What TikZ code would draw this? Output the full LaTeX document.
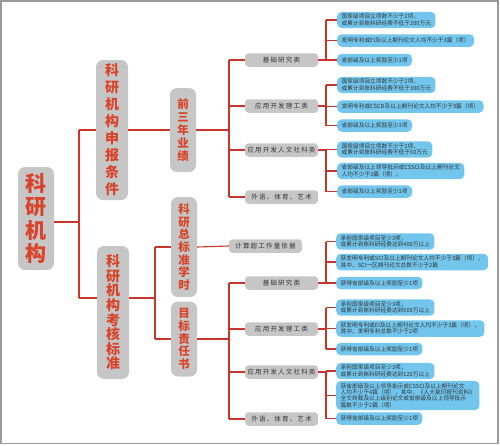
\documentclass[tikz,border=0pt]{standalone}
\usepackage{fontspec}
\setmainfont{Noto Sans CJK SC}
\newfontfamily\cjk{Noto Sans CJK SC}
\newfontfamily\catfont{Noto Sans CJK SC}[LetterSpace=18]
\definecolor{boxgray}{HTML}{C6C6C6}
\definecolor{leafblue}{HTML}{72C6EE}
\definecolor{linered}{HTML}{C8352B}
\definecolor{titlered}{HTML}{D8432A}
\definecolor{textdark}{HTML}{333333}
\definecolor{framegray}{HTML}{9A9A9A}
\tikzset{
  titlebox/.style={fill=boxgray, rounded corners=7pt, inner sep=0pt, align=center, text=titlered},
  rootfont/.style={font=\cjk\bfseries\fontsize{21}{23.5}\selectfont},
  secfont/.style={font=\cjk\bfseries\fontsize{14}{17}\selectfont},
  thirdfont/.style={font=\cjk\bfseries\fontsize{11.5}{13}\selectfont},
  catbox/.style={fill=boxgray, rounded corners=3.5pt, minimum width=73pt, minimum height=13.5pt,
    inner sep=0pt, font=\catfont\fontsize{6.5}{7}\selectfont, text=textdark},
  leaf/.style={fill=leafblue, rounded corners=4.5pt, anchor=west, inner xsep=4.5pt, inner ysep=2.3pt,
    minimum height=12.5pt, align=left, font=\cjk\fontsize{5.7}{6.4}\selectfont, text=textdark},
  link/.style={draw=linered, line width=1.1pt}
}
\begin{document}
\begin{tikzpicture}[x=1pt,y=-1pt]
\useasboundingbox (0,0) rectangle (500,445);
\draw[framegray, line width=1.2pt] (1,1) rectangle (498,443.8);

% title nodes
\node[titlebox, rootfont, minimum width=36pt, minimum height=103pt] (root) at (36,218.5) {科\\研\\机\\构};
\node[titlebox, secfont, minimum width=32pt, minimum height=140pt] (sa) at (112,130) {科\\研\\机\\构\\申\\报\\条\\件};
\node[titlebox, font=\cjk\bfseries\fontsize{14}{14.6}\selectfont, minimum width=32pt, minimum height=133pt] (sb) at (113,312.5) {科\\研\\机\\构\\考\\核\\标\\准};
\node[titlebox, thirdfont, minimum width=26pt, minimum height=84pt] (ta) at (183,130) {前\\三\\年\\业\\绩};
\node[titlebox, font=\cjk\bfseries\fontsize{11.5}{12.6}\selectfont, minimum width=26pt, minimum height=100pt] (tb) at (184,247) {科\\研\\总\\标\\准\\学\\时};
\node[titlebox, font=\cjk\bfseries\fontsize{11.5}{12.6}\selectfont, minimum width=26pt, minimum height=75pt] (tc) at (184,339) {目\\标\\责\\任\\书};

% categories
\node[catbox] (c1) at (281.5,60) {基础研究类};
\node[catbox] (c2) at (281.5,106) {应用开发理工类};
\node[catbox] (c3) at (281.5,150) {应用开发人文社科类};
\node[catbox] (c4) at (281.5,197) {外语、体育、艺术};
\node[catbox] (cx) at (265.5,246) {计算超工作量依据};
\node[catbox] (c5) at (281.5,283) {基础研究类};
\node[catbox] (c6) at (281.5,329) {应用开发理工类};
\node[catbox] (c7) at (281.5,372) {应用开发人文社科类};
\node[catbox] (c8) at (281.5,419) {外语、体育、艺术};

% leaves
\node[leaf] (l11) at (337,20) {国家级项目立项数不少于2项，\\或累计到账科研经费不低于200万元};
\node[leaf] (l12) at (337,40.5) {发明专利或EI及以上期刊论文人均不少于3篇（项）};
\node[leaf] (l13) at (337,60) {省部级及以上奖励至少1项};
\node[leaf] (l21) at (337,85) {国家级项目立项数不少于2项，\\或累计到账科研经费不低于300万元};
\node[leaf] (l22) at (337,106.5) {发明专利或CSCD及以上期刊论文人均不少于3篇（项）};
\node[leaf] (l23) at (337,125.5) {省部级及以上奖励至少1项};
\node[leaf] (l31) at (337,149.5) {国家级项目立项数不少于2项，\\或累计到账科研经费不低于60万元};
\node[leaf] (l32) at (337,171) {省部级及以上领导批示或CSSCI及以上期刊论文\\人均不少于3篇（项）。};
\node[leaf] (l33) at (337,191.5) {省部级及以上奖励至少1项};
\node[leaf] (l51) at (336,241.5) {承担国家级项目至少3项，\\或累计到账科研经费达到400万以上};
\node[leaf] (l52) at (336,262) {获发明专利或SCI及以上期刊论文人均不少于3篇（项），\\其中，SCI一区期刊论文总数不少于2篇};
\node[leaf] (l53) at (336,283) {获得省部级及以上奖励至少1项};
\node[leaf] (l61) at (336,307.5) {承担国家级项目至少3项，\\或累计到账科研经费达到600万以上};
\node[leaf] (l62) at (336,328.5) {获发明专利或EI及以上期刊论文人均不少于3篇（项），\\其中，发明专利总数不少于2项};
\node[leaf] (l63) at (336,349) {获得省部级及以上奖励至少1项};
\node[leaf] (l71) at (336,371) {承担国家级项目至少3项，\\或累计到账科研经费达到120万以上};
\node[leaf] (l72) at (336,395.5) {获省部级及以上领导批示或CSSCI及以上期刊论文\\人均不少于4篇（项），其中，《人大复印报刊资料》\\全文转载及以上级别论文或省部级及以上领导批示\\篇数不少于2篇（项）};
\node[leaf] (l73) at (336,418.5) {获得省部级及以上奖励至少1项};

% junction coordinates
\coordinate (j0) at (79,222);
\coordinate (j2) at (155,298);
\coordinate (va) at (229,0);
\coordinate (vl) at (326,0);

% root level
\draw[link] (root.east |- j0) -- (j0);
\draw[link] (j0 |- sa) -- (j0 |- j2);
\draw[link] (j0 |- sa) -- (sa.west);
\draw[link] (j0 |- j2) -- (sb.west |- j2);

% second level
\draw[link] (sa.east) -- (ta.west);
\draw[link] (sb.east |- j2) -- (j2);
\draw[link] (j2 |- tb) -- (j2 |- tc);
\draw[link] (j2 |- tb) -- (tb.west);
\draw[link] (j2 |- tc) -- (tc.west);

% third level
\draw[link] (ta.east) -- (va |- ta);
\draw[link] (va |- c1) -- (va |- c4);
\foreach \c in {c1,c2,c3,c4} \draw[link] (va |- \c) -- (\c.west);
\draw[link] (tb.east) -- (cx.west);
\draw[link] (tc.east) -- (va |- tc);
\draw[link] (va |- c5) -- (va |- c8);
\foreach \c in {c5,c6,c7,c8} \draw[link] (va |- \c) -- (\c.west);

% leaf level
\foreach \c/\a/\b/\m in {c1/l11/l13/l12, c2/l21/l23/l22, c3/l31/l33/l32, c5/l51/l53/l52, c6/l61/l63/l62, c7/l71/l73/l72} {
  \draw[link] (\c.east) -- (vl |- \c);
  \draw[link] (vl |- \a) -- (vl |- \b);
  \draw[link] (vl |- \a) -- (\a.west);
  \draw[link] (vl |- \m) -- (\m.west);
  \draw[link] (vl |- \b) -- (\b.west);
}
\end{tikzpicture}
\end{document}
